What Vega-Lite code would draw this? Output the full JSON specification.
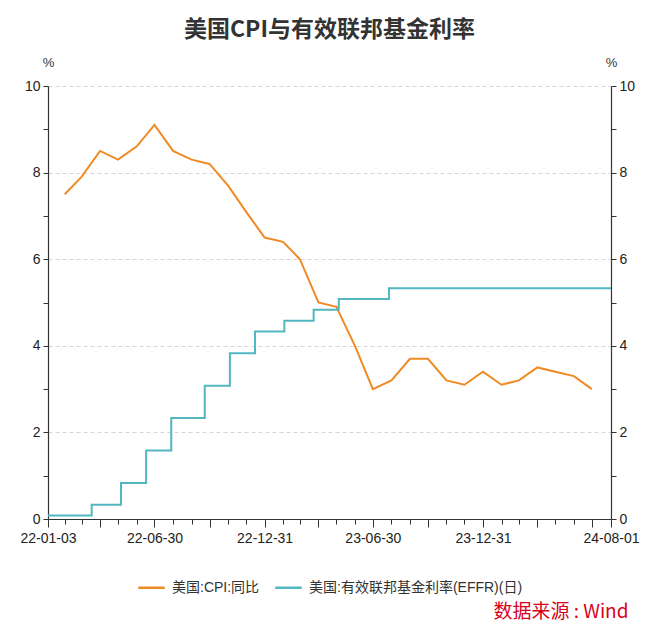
{
  "$schema": "https://vega.github.io/schema/vega-lite/v6.json",
  "width": 563,
  "height": 433,
  "autosize": "none",
  "padding": {"left": 48, "top": 86, "right": 49, "bottom": 116},
  "title": {
    "text": "美国CPI与有效联邦基金利率",
    "font": "Noto Sans CJK SC",
    "fontSize": 23,
    "fontWeight": "bold",
    "color": "#333333",
    "anchor": "middle",
    "offset": 14
  },
  "data": {
    "values": [
      {"date": "2022-01-31", "value": 7.5, "series": "美国:CPI:同比"},
      {"date": "2022-02-28", "value": 7.9, "series": "美国:CPI:同比"},
      {"date": "2022-03-31", "value": 8.5, "series": "美国:CPI:同比"},
      {"date": "2022-04-30", "value": 8.3, "series": "美国:CPI:同比"},
      {"date": "2022-05-31", "value": 8.6, "series": "美国:CPI:同比"},
      {"date": "2022-06-30", "value": 9.1, "series": "美国:CPI:同比"},
      {"date": "2022-07-31", "value": 8.5, "series": "美国:CPI:同比"},
      {"date": "2022-08-31", "value": 8.3, "series": "美国:CPI:同比"},
      {"date": "2022-09-30", "value": 8.2, "series": "美国:CPI:同比"},
      {"date": "2022-10-31", "value": 7.7, "series": "美国:CPI:同比"},
      {"date": "2022-11-30", "value": 7.1, "series": "美国:CPI:同比"},
      {"date": "2022-12-31", "value": 6.5, "series": "美国:CPI:同比"},
      {"date": "2023-01-31", "value": 6.4, "series": "美国:CPI:同比"},
      {"date": "2023-02-28", "value": 6.0, "series": "美国:CPI:同比"},
      {"date": "2023-03-31", "value": 5.0, "series": "美国:CPI:同比"},
      {"date": "2023-04-30", "value": 4.9, "series": "美国:CPI:同比"},
      {"date": "2023-05-31", "value": 4.0, "series": "美国:CPI:同比"},
      {"date": "2023-06-30", "value": 3.0, "series": "美国:CPI:同比"},
      {"date": "2023-07-31", "value": 3.2, "series": "美国:CPI:同比"},
      {"date": "2023-08-31", "value": 3.7, "series": "美国:CPI:同比"},
      {"date": "2023-09-30", "value": 3.7, "series": "美国:CPI:同比"},
      {"date": "2023-10-31", "value": 3.2, "series": "美国:CPI:同比"},
      {"date": "2023-11-30", "value": 3.1, "series": "美国:CPI:同比"},
      {"date": "2023-12-31", "value": 3.4, "series": "美国:CPI:同比"},
      {"date": "2024-01-31", "value": 3.1, "series": "美国:CPI:同比"},
      {"date": "2024-02-29", "value": 3.2, "series": "美国:CPI:同比"},
      {"date": "2024-03-31", "value": 3.5, "series": "美国:CPI:同比"},
      {"date": "2024-04-30", "value": 3.4, "series": "美国:CPI:同比"},
      {"date": "2024-05-31", "value": 3.3, "series": "美国:CPI:同比"},
      {"date": "2024-06-30", "value": 3.0, "series": "美国:CPI:同比"},
      {"date": "2022-01-03", "value": 0.08, "series": "美国:有效联邦基金利率(EFFR)(日)"},
      {"date": "2022-03-17", "value": 0.33, "series": "美国:有效联邦基金利率(EFFR)(日)"},
      {"date": "2022-05-05", "value": 0.83, "series": "美国:有效联邦基金利率(EFFR)(日)"},
      {"date": "2022-06-16", "value": 1.58, "series": "美国:有效联邦基金利率(EFFR)(日)"},
      {"date": "2022-07-28", "value": 2.33, "series": "美国:有效联邦基金利率(EFFR)(日)"},
      {"date": "2022-09-22", "value": 3.08, "series": "美国:有效联邦基金利率(EFFR)(日)"},
      {"date": "2022-11-03", "value": 3.83, "series": "美国:有效联邦基金利率(EFFR)(日)"},
      {"date": "2022-12-15", "value": 4.33, "series": "美国:有效联邦基金利率(EFFR)(日)"},
      {"date": "2023-02-02", "value": 4.58, "series": "美国:有效联邦基金利率(EFFR)(日)"},
      {"date": "2023-03-23", "value": 4.83, "series": "美国:有效联邦基金利率(EFFR)(日)"},
      {"date": "2023-05-04", "value": 5.08, "series": "美国:有效联邦基金利率(EFFR)(日)"},
      {"date": "2023-07-27", "value": 5.33, "series": "美国:有效联邦基金利率(EFFR)(日)"},
      {"date": "2024-08-01", "value": 5.33, "series": "美国:有效联邦基金利率(EFFR)(日)"}
    ]
  },
  "encoding": {
    "x": {
      "field": "date",
      "type": "temporal",
      "scale": {
        "type": "utc",
        "nice": false,
        "domain": [
          {"year": 2022, "month": 1, "date": 3, "utc": true},
          {"year": 2024, "month": 8, "date": 1, "utc": true}
        ]
      },
      "axis": {
        "title": "数据来源 : Wind",
        "titleFont": "Noto Sans CJK SC",
        "titleFontSize": 19,
        "titleFontWeight": "normal",
        "titleColor": "#d9001b",
        "titleAlign": "right",
        "titleBaseline": "middle",
        "titleX": 580,
        "titleY": 92,
        "grid": false,
        "format": "%y-%m-%d",
        "formatType": "utc",
        "labelExpr": "indexof(['22-01-03','22-06-30','22-12-31','23-06-30','23-12-31','24-08-01'], utcFormat(datum.value, '%y-%m-%d')) >= 0 ? utcFormat(datum.value, '%y-%m-%d') : ''",
        "labelOverlap": false,
        "labelFlush": false,
        "labelBound": false,
        "labelPadding": 4,
        "labelFontSize": 14,
        "tickSize": {"condition": {"test": "utcmonth(datum.value) % 3 != 2 && utcdate(datum.value) >= 28", "value": 5}, "value": 8},
        "values": [
          {"year": 2022, "month": 1, "date": 3, "utc": true},
          {"year": 2022, "month": 1, "date": 31, "utc": true},
          {"year": 2022, "month": 2, "date": 28, "utc": true},
          {"year": 2022, "month": 3, "date": 31, "utc": true},
          {"year": 2022, "month": 4, "date": 30, "utc": true},
          {"year": 2022, "month": 5, "date": 31, "utc": true},
          {"year": 2022, "month": 6, "date": 30, "utc": true},
          {"year": 2022, "month": 7, "date": 31, "utc": true},
          {"year": 2022, "month": 8, "date": 31, "utc": true},
          {"year": 2022, "month": 9, "date": 30, "utc": true},
          {"year": 2022, "month": 10, "date": 31, "utc": true},
          {"year": 2022, "month": 11, "date": 30, "utc": true},
          {"year": 2022, "month": 12, "date": 31, "utc": true},
          {"year": 2023, "month": 1, "date": 31, "utc": true},
          {"year": 2023, "month": 2, "date": 28, "utc": true},
          {"year": 2023, "month": 3, "date": 31, "utc": true},
          {"year": 2023, "month": 4, "date": 30, "utc": true},
          {"year": 2023, "month": 5, "date": 31, "utc": true},
          {"year": 2023, "month": 6, "date": 30, "utc": true},
          {"year": 2023, "month": 7, "date": 31, "utc": true},
          {"year": 2023, "month": 8, "date": 31, "utc": true},
          {"year": 2023, "month": 9, "date": 30, "utc": true},
          {"year": 2023, "month": 10, "date": 31, "utc": true},
          {"year": 2023, "month": 11, "date": 30, "utc": true},
          {"year": 2023, "month": 12, "date": 31, "utc": true},
          {"year": 2024, "month": 1, "date": 31, "utc": true},
          {"year": 2024, "month": 2, "date": 29, "utc": true},
          {"year": 2024, "month": 3, "date": 31, "utc": true},
          {"year": 2024, "month": 4, "date": 30, "utc": true},
          {"year": 2024, "month": 5, "date": 31, "utc": true},
          {"year": 2024, "month": 6, "date": 30, "utc": true},
          {"year": 2024, "month": 8, "date": 1, "utc": true}
        ]
      }
    },
    "color": {
      "field": "series",
      "type": "nominal",
      "scale": {
        "domain": ["美国:CPI:同比", "美国:有效联邦基金利率(EFFR)(日)"],
        "range": ["#f08a24", "#52b7c1"]
      },
      "legend": {
        "title": null,
        "orient": "none",
        "direction": "horizontal",
        "legendX": 89,
        "legendY": 487,
        "symbolType": "stroke",
        "symbolStrokeWidth": 2.5,
        "symbolSize": 700,
        "labelFont": "Liberation Sans, Noto Sans CJK SC",
        "labelFontSize": 14,
        "labelColor": "#333333",
        "labelLimit": 0,
        "columnPadding": 10,
        "labelOffset": 6
      }
    }
  },
  "layer": [
    {
      "transform": [{"filter": "datum.series === '美国:CPI:同比'"}],
      "mark": {"type": "line", "strokeWidth": 2},
      "encoding": {
        "y": {
          "field": "value",
          "type": "quantitative",
          "scale": {"domain": [0, 10], "nice": false, "zero": true},
          "axis": {
            "title": "%",
            "titleAngle": 0,
            "titleX": 0,
            "titleY": -24,
            "titleAlign": "center",
            "titleBaseline": "middle",
            "titleFontWeight": "normal",
            "titleFontSize": 13,
            "values": [0, 1, 2, 3, 4, 5, 6, 7, 8, 9, 10],
            "labelExpr": "datum.value % 2 == 0 ? datum.label : ''",
            "grid": true,
            "gridOpacity": {"condition": {"test": "datum.value % 2 == 1", "value": 0}, "value": 1},
            "gridDash": [4, 3],
            "gridColor": "#d6d6d6",
            "tickSize": 5,
            "labelPadding": 3,
            "labelFontSize": 14
          }
        }
      }
    },
    {
      "transform": [{"filter": "datum.series === '美国:有效联邦基金利率(EFFR)(日)'"}],
      "mark": {"type": "line", "strokeWidth": 2, "interpolate": "step-after"},
      "encoding": {
        "y": {
          "field": "value",
          "type": "quantitative",
          "scale": {"domain": [0, 10], "nice": false, "zero": true},
          "axis": {
            "orient": "right",
            "title": "%",
            "titleAngle": 0,
            "titleX": 0,
            "titleY": -24,
            "titleAlign": "center",
            "titleBaseline": "middle",
            "titleFontWeight": "normal",
            "titleFontSize": 13,
            "values": [0, 1, 2, 3, 4, 5, 6, 7, 8, 9, 10],
            "labelExpr": "datum.value % 2 == 0 ? datum.label : ''",
            "grid": false,
            "tickSize": 5,
            "labelPadding": 3,
            "labelFontSize": 14
          }
        }
      }
    }
  ],
  "resolve": {"scale": {"y": "independent"}},
  "config": {
    "view": {"stroke": null},
    "font": "Liberation Sans, Noto Sans CJK SC",
    "axis": {
      "domainColor": "#333333",
      "tickColor": "#333333",
      "labelColor": "#222222",
      "titleColor": "#333333",
      "domainWidth": 1.2,
      "labelFont": "Liberation Sans",
      "titleFont": "Liberation Sans"
    }
  }
}
